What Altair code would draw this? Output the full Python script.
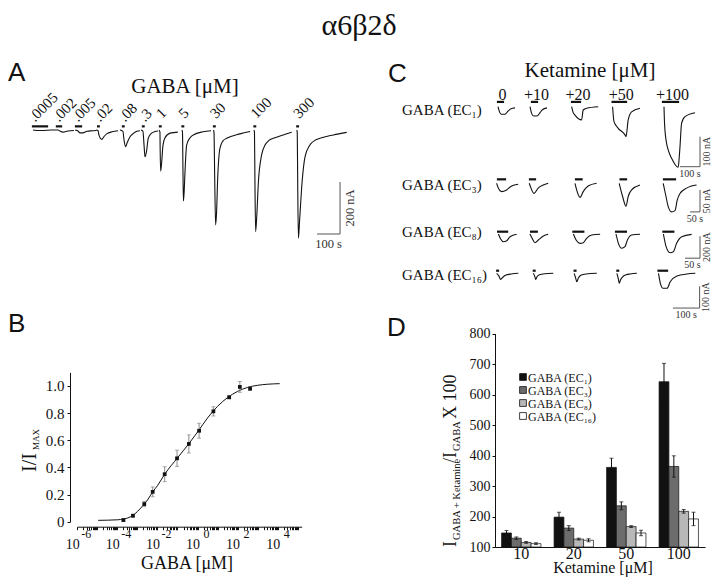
import altair as alt
import pandas as pd

SERIF = "Liberation Serif"
SANS = "Liberation Sans"
INK = "#111111"
BARINK = "#555555"
W, H = 704, 569

# ======================= DATA =======================
# ---- Panel A: responses to increasing GABA (time s, current nA) ----
A_LABELS = [".0005", ".002", ".005", ".02", ".08", ".3", "1", "5", "30", "100", "300"]
A_TIME = [
    [13, 43, 74, 87],
    [87, 122, 130, 143, 165, 191],
    [196, 209, 217, 230, 248, 270, 287],
    [287, 296, 300, 312, 322, 335, 357, 383],
    [391, 404, 409, 416, 422, 435, 448, 465, 478],
    [483, 491, 496, 500, 507, 514, 526, 543, 557],
    [561, 565, 566, 568, 572, 578, 587, 609, 643],
    [661, 663, 665, 667, 670, 674, 681, 696, 710, 752, 787],
    [798, 800, 803, 807, 811, 816, 826, 839, 855, 913, 957],
    [974, 976, 978, 981, 986, 993, 1007, 1022, 1039, 1058, 1101, 1138],
    [1160, 1162, 1164, 1167, 1172, 1183, 1196, 1217, 1239, 1261, 1319, 1377],
]
A_CURR = [
    [0, -2, -1, 0],
    [0, 0, -4, -8, -4, -2],
    [0, -4, -11, -11, -5, -3, -2],
    [0, -3, -20, -36, -25, -14, -7, -3],
    [0, -5, -40, -64, -50, -26, -14, -5, -3],
    [0, -5, -60, -103, -80, -32, -14, -6, -4],
    [0, -8, -80, -158, -130, -60, -30, -12, -8],
    [0, -10, -150, -273, -240, -160, -58, -30, -19, -7, -3],
    [0, -10, -180, -365, -320, -186, -70, -42, -32, -15, -6],
    [0, -10, -200, -391, -330, -200, -96, -58, -40, -32, -19, -9],
    [0, -10, -210, -416, -350, -200, -102, -58, -40, -32, -19, -9],
]
A_BAR_START = [13, 117, 200, 296, 404, 491, 565, 663, 800, 976, 1162]
A_BAR_END = [74, 135, 222, 299, 407, 494, 568, 666, 803, 979, 1165]
A_SCALE_T = [1248, 1348]      # 100 s
A_SCALE_I = [-400, -200]      # 200 nA

# ---- Panel B: concentration-response ----
B_CONC = [0.0002, 0.0006, 0.0022, 0.0058, 0.023, 0.095, 0.37, 1.2, 6.2, 38, 130, 420]
B_RESP = [0.012, 0.044, 0.13, 0.22, 0.35, 0.467, 0.573, 0.67, 0.813, 0.917, 0.993, 0.98]
B_ERR = [0.008, 0.01, 0.02, 0.036, 0.055, 0.06, 0.067, 0.055, 0.034, 0.012, 0.04, 0.012]
B_FIT_CONC = [1.1e-5, 1e-4, 2.1e-4, 3.2e-4, 5.8e-4, 1e-3, 2.2e-3, 3.2e-3, 5.8e-3, 1e-2,
              0.023, 0.1, 0.37, 1, 3.2, 10, 32, 100, 320, 1000, 3200, 1.26e4]
B_FIT_RESP = [0.01, 0.014, 0.02, 0.027, 0.045, 0.075, 0.13, 0.16, 0.22, 0.265,
              0.35, 0.47, 0.575, 0.66, 0.765, 0.85, 0.915, 0.96, 0.99, 1.005, 1.013, 1.017]
B_DECADES = [1e-6, 1e-4, 1e-2, 1, 1e2, 1e4]
B_EXPONENTS = ["-6", "-4", "-2", "0", "2", "4"]

# ---- Panel C: ketamine potentiation traces ----
C_KET = ["0", "+10", "+20", "+50", "+100"]
C_ROWS = ["GABA (EC\u2081)", "GABA (EC\u2083)", "GABA (EC\u2088)", "GABA (EC\u2081\u2086)"]

C1_TIME = [[40, 48, 56, 75, 90, 105, 125],
           [200, 207, 215, 235, 250, 262, 285],
           [408, 415, 425, 458, 466, 483, 541],
           [613, 620, 641, 675, 680, 691, 708, 750],
           [870, 873, 883, 891, 908, 941, 946, 950, 958, 975, 1025]]
C1_CURR = [[0, -18, -25, -25, -15, -7, -4],
           [0, -20, -30, -31, -20, -10, -4],
           [0, -18, -28, -44, -11, -5, 0],
           [0, -50, -72, -94, -100, -44, -17, -5],
           [0, -60, -122, -144, -172, -202, -170, -133, -55, -33, -20]]
C1_BAR_START = [40, 210, 410, 613, 865]
C1_BAR_END = [65, 235, 450, 680, 940]
C1_SCALE_T = [950, 1050]
C1_SCALE_I = [-200, -100]

C2_TIME = [[33, 42, 58, 83, 108, 141],
           [196, 205, 220, 241, 266, 291],
           [425, 436, 450, 466, 491, 533],
           [646, 663, 680, 691, 708, 750],
           [866, 880, 891, 908, 925, 936, 950, 983, 1033]]
C2_CURR = [[0, -11, -19, -15, -6, -2],
           [0, -11, -23, -11, -4, 0],
           [0, -19, -32, -19, -6, 0],
           [0, -30, -52, -30, -15, -4],
           [0, -30, -53, -65, -62, -38, -23, -11, -4]]
C2_BAR_START = [40, 200, 430, 653, 870]
C2_BAR_END = [75, 225, 458, 680, 925]
C2_SCALE_T = [1000, 1050]
C2_SCALE_I = [-65, -15]

C3_TIME = [[28, 36, 44, 56, 67, 89],
           [133, 140, 150, 161, 178, 194],
           [278, 287, 300, 311, 322, 339, 367],
           [420, 428, 439, 450, 458, 472, 500],
           [578, 587, 600, 611, 622, 639, 672]]
C3_CURR = [[0, -48, -70, -61, -25, -3],
           [0, -36, -79, -55, -18, -3],
           [0, -55, -85, -79, -39, -9, -2],
           [0, -85, -130, -115, -55, -9, -2],
           [0, -115, -170, -161, -85, -25, -3]]
C3_BAR_START = [27, 137, 278, 420, 578]
C3_BAR_END = [57, 156, 311, 453, 611]
C3_SCALE_T = [650, 700]
C3_SCALE_I = [-220, -20]

C4_TIME = [[25, 33, 40, 48, 60, 80, 106],
           [162, 168, 171, 176, 185, 205, 237],
           [315, 320, 325, 331, 340, 360, 400],
           [475, 480, 484, 489, 497, 510, 525, 550],
           [631, 638, 648, 663, 675, 700, 738, 769]]
C4_CURR = [[0, -12, -28, -18, -8, -3, 0],
           [0, -15, -28, -16, -7, -2, 0],
           [0, -18, -39, -22, -9, -3, 0],
           [0, -22, -46, -30, -16, -7, -3, 0],
           [0, -46, -69, -69, -39, -12, -3, 0]]
C4_BAR_START = [27, 164, 317, 477, 631]
C4_BAR_END = [30, 167, 320, 480, 663]
C4_SCALE_T = [685, 785]
C4_SCALE_I = [-160, -60]

# ---- Panel D: potentiation by ketamine ----
D_KET = ["10", "20", "50", "100"]
D_SERIES = ["GABA (EC\u2081)", "GABA (EC\u2083)", "GABA (EC\u2088)", "GABA (EC\u2081\u2086)"]
D_EC1 = [146, 198, 361, 642]
D_EC1_ERR = [8, 16, 30, 60]
D_EC3 = [129, 162, 235, 364]
D_EC3_ERR = [4, 8, 13, 35]
D_EC8 = [115, 126, 167, 217]
D_EC8_ERR = [3, 3, 3, 6]
D_EC16 = [111, 122, 146, 192]
D_EC16_ERR = [3, 5, 9, 22]
D_COLORS = ["#111111", "#6c6c6c", "#b8b8b8", "#ffffff"]

# ======================= HELPERS =======================
ONE = pd.DataFrame({"k": [0]})


def txt(s, x, y, size, font=SERIF, angle=0, align="center", baseline="alphabetic", color=INK):
    return alt.Chart(pd.DataFrame({"s": [s]})).mark_text(
        font=font, fontSize=size, angle=angle, align=align, baseline=baseline, color=color
    ).encode(text="s:N", x=alt.value(x), y=alt.value(y))


def traces_df(times, currs):
    rows = []
    for k, (ts, cs) in enumerate(zip(times, currs)):
        for j, (t, c) in enumerate(zip(ts, cs)):
            rows.append({"trace": k, "o": j, "t": t, "i": c})
    return pd.DataFrame(rows)


def trace_panel(times, currs, b0, b1, blevel, xs, ys, st, si, tlab, ilab, fsize,
                bar_w=2.2, tdy=3, idy=3):
    X = lambda f: alt.X(f, scale=xs, axis=None)
    Y = lambda f: alt.Y(f, scale=ys, axis=None)
    lines = alt.Chart(traces_df(times, currs)).mark_line(
        color=INK, strokeWidth=1.1, interpolate="monotone"
    ).encode(x=X("t:Q"), y=Y("i:Q"), detail="trace:N", order="o:Q")
    bars = alt.Chart(pd.DataFrame({"t0": b0, "t1": b1})).mark_rule(
        color=INK, strokeWidth=bar_w, strokeCap="square"
    ).encode(x=X("t0:Q"), x2="t1:Q", y=alt.YDatum(blevel, scale=ys, axis=None))
    hbar = alt.Chart(ONE).mark_rule(color=BARINK, strokeWidth=1).encode(
        x=alt.XDatum(st[0], scale=xs, axis=None), x2=alt.X2Datum(st[1]),
        y=alt.YDatum(si[0], scale=ys, axis=None))
    vbar = alt.Chart(ONE).mark_rule(color=BARINK, strokeWidth=1).encode(
        x=alt.XDatum(st[1], scale=xs, axis=None),
        y=alt.YDatum(si[0], scale=ys, axis=None), y2=alt.Y2Datum(si[1]))
    tl = alt.Chart(pd.DataFrame({"s": [tlab]})).mark_text(
        font=SERIF, fontSize=fsize, baseline="top", dy=tdy, color="#333333"
    ).encode(text="s:N", x=alt.XDatum((st[0] + st[1]) / 2, scale=xs, axis=None),
             y=alt.YDatum(si[0], scale=ys, axis=None))
    il = alt.Chart(pd.DataFrame({"s": [ilab]})).mark_text(
        font=SERIF, fontSize=fsize, angle=270, baseline="top", dy=idy, color="#333333"
    ).encode(text="s:N", x=alt.XDatum(st[1], scale=xs, axis=None),
             y=alt.YDatum((si[0] + si[1]) / 2, scale=ys, axis=None))
    return [lines, bars, hbar, vbar, tl, il]


# ======================= PANEL A =======================
xsA = alt.Scale(domain=[0, 1400], range=[22, 344], nice=False, zero=False)
ysA = alt.Scale(domain=[-450, 50], range=[239, 109], nice=False, zero=False)
A_layers = trace_panel(A_TIME, A_CURR, A_BAR_START, A_BAR_END, 14, xsA, ysA,
                       A_SCALE_T, A_SCALE_I, "100 s", "200 nA", 12.5, bar_w=2.2, tdy=4, idy=4)
a_lab = pd.DataFrame({"s": A_LABELS, "t": A_BAR_START})
A_dec = alt.Chart(a_lab.iloc[:6]).mark_text(
    font=SERIF, fontSize=15, angle=315, align="left", baseline="alphabetic", dx=4.2, dy=-1.4, color=INK
).encode(text="s:N", x=alt.X("t:Q", scale=xsA, axis=None), y=alt.YDatum(14, scale=ysA, axis=None))
A_int = alt.Chart(a_lab.iloc[6:]).mark_text(
    font=SERIF, fontSize=15, angle=315, align="left", baseline="alphabetic", dx=6.4, dy=-3.5, color=INK
).encode(text="s:N", x=alt.X("t:Q", scale=xsA, axis=None), y=alt.YDatum(14, scale=ysA, axis=None))
panelA = alt.layer(*A_layers, A_dec, A_int)

# ======================= PANEL B =======================
xsB = alt.Scale(type="log", domain=[1e-6, 10 ** 5.2], range=[69.3, 293.7], nice=False)
ysB = alt.Scale(domain=[0, 1.1], range=[513.7, 364.4], nice=False, zero=False)
B_TICKS = [m * 10.0 ** e for e in range(-6, 6) for m in range(1, 10) if m * 10.0 ** e <= 10 ** 5.2]
lab10 = ("(abs(log(datum.value)/LN10 - round(log(datum.value)/LN10)) < 0.001 && "
         "round(log(datum.value)/LN10) % 2 == 0) ? '10' : ''")
xaxB = alt.Axis(orient="bottom", offset=518.7 - H, values=B_TICKS, labelExpr=lab10, tickSize=3,
                labelPadding=8, labelOffset=-5, labelFontSize=14, labelOverlap=False,
                labelFlush=False, title=None)
yaxB = alt.Axis(orient="left", offset=-62, values=[0, 0.2, 0.4, 0.6, 0.8, 1.0],
                labelExpr="datum.value == 0 ? '0' : format(datum.value, '.1f')",
                tickSize=3, labelPadding=3, labelFontSize=15, title=None)
b_pts = pd.DataFrame({"c": B_CONC, "r": B_RESP, "lo": [r - e for r, e in zip(B_RESP, B_ERR)],
                      "hi": [r + e for r, e in zip(B_RESP, B_ERR)]})
b_fit = pd.DataFrame({"c": B_FIT_CONC, "r": B_FIT_RESP})
b_caps = pd.concat([b_pts[["c", "lo"]].rename(columns={"lo": "v"}),
                    b_pts[["c", "hi"]].rename(columns={"hi": "v"})])
B_axis_layer = alt.Chart(b_fit).mark_line(color=INK, strokeWidth=1, interpolate="monotone").encode(
    x=alt.X("c:Q", scale=xsB, axis=xaxB), y=alt.Y("r:Q", scale=ysB, axis=yaxB))
B_err = alt.Chart(b_pts).mark_rule(color="#8a8a8a", strokeWidth=1).encode(
    x=alt.X("c:Q", scale=xsB), y=alt.Y("lo:Q", scale=ysB), y2="hi:Q")
B_cap = alt.Chart(b_caps).mark_tick(color="#8a8a8a", thickness=1, size=4, orient="horizontal").encode(
    x=alt.X("c:Q", scale=xsB), y=alt.Y("v:Q", scale=ysB))
B_pt = alt.Chart(b_pts).mark_square(size=14, color=INK, opacity=1).encode(
    x=alt.X("c:Q", scale=xsB), y=alt.Y("r:Q", scale=ysB))
B_exp = alt.Chart(pd.DataFrame({"c": B_DECADES, "s": B_EXPONENTS})).mark_text(
    font=SERIF, fontSize=12, dx=9, baseline="alphabetic", color=INK
).encode(x=alt.X("c:Q", scale=xsB), y=alt.value(530), text="s:N")
panelB = alt.layer(B_axis_layer, B_err, B_cap, B_pt, B_exp)

# ======================= PANEL C =======================
C_specs = [
    (C1_TIME, C1_CURR, C1_BAR_START, C1_BAR_END, 16, [0, 1100], [482, 702], [-230, 20], [167.7, 92.7],
     C1_SCALE_T, C1_SCALE_I, "100 s", "100 nA"),
    (C2_TIME, C2_CURR, C2_BAR_START, C2_BAR_END, 9, [0, 1100], [482, 702], [-80, 20], [210.5, 166.5],
     C2_SCALE_T, C2_SCALE_I, "50 s", "50 nA"),
    (C3_TIME, C3_CURR, C3_BAR_START, C3_BAR_END, 21, [0, 733.3], [482, 702], [-250, 50], [253.5, 220.5],
     C3_SCALE_T, C3_SCALE_I, "50 s", "200 nA"),
    (C4_TIME, C4_CURR, C4_BAR_START, C4_BAR_END, 12, [0, 825], [482, 702.3], [-180, 30], [304.4, 258.8],
     C4_SCALE_T, C4_SCALE_I, "100 s", "100 nA"),
]
C_panels = []
for n, (tt, cc, b0, b1, lvl, xd, xr, yd, yr, st, si, tlab, ilab) in enumerate(C_specs):
    xs = alt.Scale(domain=xd, range=xr, nice=False, zero=False)
    ys = alt.Scale(domain=yd, range=yr, nice=False, zero=False)
    lay = trace_panel(tt, cc, b0, b1, lvl, xs, ys, st, si, tlab, ilab, 10, bar_w=2.2, tdy=2, idy=1.5)
    if n == 0:
        hdr = pd.DataFrame({"s": C_KET, "t": [(a + b) / 2 for a, b in zip(b0, b1)]})
        lay.append(alt.Chart(hdr).mark_text(font=SERIF, fontSize=16, dx=2, color=INK).encode(
            text="s:N", x=alt.X("t:Q", scale=xs, axis=None), y=alt.value(87)))
    C_panels.append(alt.layer(*lay))

# ======================= PANEL D =======================
d_rows = []
for s, vals, errs in zip(D_SERIES, [D_EC1, D_EC3, D_EC8, D_EC16],
                         [D_EC1_ERR, D_EC3_ERR, D_EC8_ERR, D_EC16_ERR]):
    for k, v, e in zip(D_KET, vals, errs):
        d_rows.append({"ket": k, "series": s, "v": v, "lo": v - e, "hi": v + e})
d_df = pd.DataFrame(d_rows)
d_caps = pd.concat([d_df[["ket", "series", "lo"]].rename(columns={"lo": "c"}),
                    d_df[["ket", "series", "hi"]].rename(columns={"hi": "c"})])
fillD = alt.Scale(domain=D_SERIES, range=D_COLORS)
xsD = alt.Scale(domain=D_KET, range=[487, 697], paddingInner=0.25, paddingOuter=0.125)
ysD = alt.Scale(domain=[100, 800], range=[539, 325.5], nice=False, zero=False)
offD = alt.XOffset("series:N", sort=D_SERIES, scale=alt.Scale(domain=D_SERIES, paddingInner=0, paddingOuter=0))
xaxD = alt.Axis(orient="bottom", offset=539 - H, ticks=False, labelPadding=-2, labelFontSize=16,
                labelAngle=0, title=None)
yaxD = alt.Axis(orient="left", offset=-487, values=list(range(100, 801, 100)), tickSize=3,
                labelPadding=2, labelFontSize=14, title=None)
D_bars = alt.Chart(d_df).mark_bar(stroke=INK, strokeWidth=0.7).encode(
    x=alt.X("ket:N", sort=D_KET, scale=xsD, axis=xaxD),
    xOffset=offD,
    y=alt.Y("v:Q", scale=ysD, axis=yaxD),
    y2=alt.Y2Datum(100),
    fill=alt.Fill("series:N", sort=D_SERIES, scale=fillD, legend=None),
)
D_err = alt.Chart(d_df).mark_rule(color=INK, strokeWidth=1).encode(
    x=alt.X("ket:N", sort=D_KET, scale=xsD), xOffset=offD,
    y=alt.Y("lo:Q", scale=ysD), y2="hi:Q")
D_cap = alt.Chart(d_caps).mark_tick(color=INK, thickness=1, size=4, orient="horizontal").encode(
    x=alt.X("ket:N", sort=D_KET, scale=xsD), xOffset=offD, y=alt.Y("c:Q", scale=ysD))
panelD = alt.layer(D_bars, D_err, D_cap)

# legend of panel D, drawn with a point scale for the rows
legY = alt.Scale(domain=D_SERIES, type="point", range=[369, 408], padding=0)
leg_df = pd.DataFrame({"series": D_SERIES})
legend_sym = alt.Chart(leg_df).mark_square(size=46, stroke=INK, strokeWidth=0.8, opacity=1).encode(
    x=alt.value(515), y=alt.Y("series:N", scale=legY, axis=None),
    fill=alt.Fill("series:N", scale=fillD, legend=None))
legend_txt = alt.Chart(leg_df).mark_text(font=SERIF, fontSize=12, align="left", baseline="middle",
                                         color=INK, dy=1).encode(
    x=alt.value(520), y=alt.Y("series:N", scale=legY, axis=None), text="series:N")
legendD = alt.layer(legend_sym, legend_txt)

# ======================= TEXT =======================
texts = [
    txt("\u03b16\u03b22\u03b4", 351, 26.5, 30),
    txt("A", 0, 73, 26, font=SANS, align="left"),
    txt("B", 0, 324, 26, font=SANS, align="left"),
    txt("C", 380, 74, 26, font=SANS, align="left"),
    txt("D", 379, 328, 26, font=SANS, align="left"),
    txt("GABA [\u03bcM]", 177, 85, 21),
    txt("Ketamine [\u03bcM]", 582, 69, 21),
    txt("GABA [\u03bcM]", 179, 561, 18),
    txt("Ketamine [\u03bcM]", 595, 564.5, 16),
    # B y title
    txt("I/I", 28, 464, 20, angle=270, align="left"),
    txt("MAX", 31, 442, 9, angle=270, align="left"),
    # D y title
    txt("I", 448, 539, 18, angle=270, align="left"),
    txt("GABA + Ketamine", 452, 532, 10.5, angle=270, align="left"),
    txt("/I", 448, 455, 18, angle=270, align="left"),
    txt("GABA", 452, 443, 10.5, angle=270, align="left"),
    txt("X 100", 448, 411, 18, angle=270, align="left"),
]
for lab, yy in zip(C_ROWS, [107, 182, 229, 272]):
    texts.append(txt(lab, 394, yy, 15, align="left"))

chart = alt.layer(panelA, panelB, *C_panels, panelD, legendD, *texts).resolve_scale(
    x="independent", y="independent"
).properties(
    width=W, height=H, padding=0, autosize=alt.AutoSizeParams(type="none")
).configure_view(stroke=None).configure_axis(
    grid=False, labelFont=SERIF, labelColor=INK, domainColor=INK, tickColor=INK,
    domainWidth=1, tickWidth=1
)

chart.save("out.html", embed_options={"renderer": "svg", "actions": False})
